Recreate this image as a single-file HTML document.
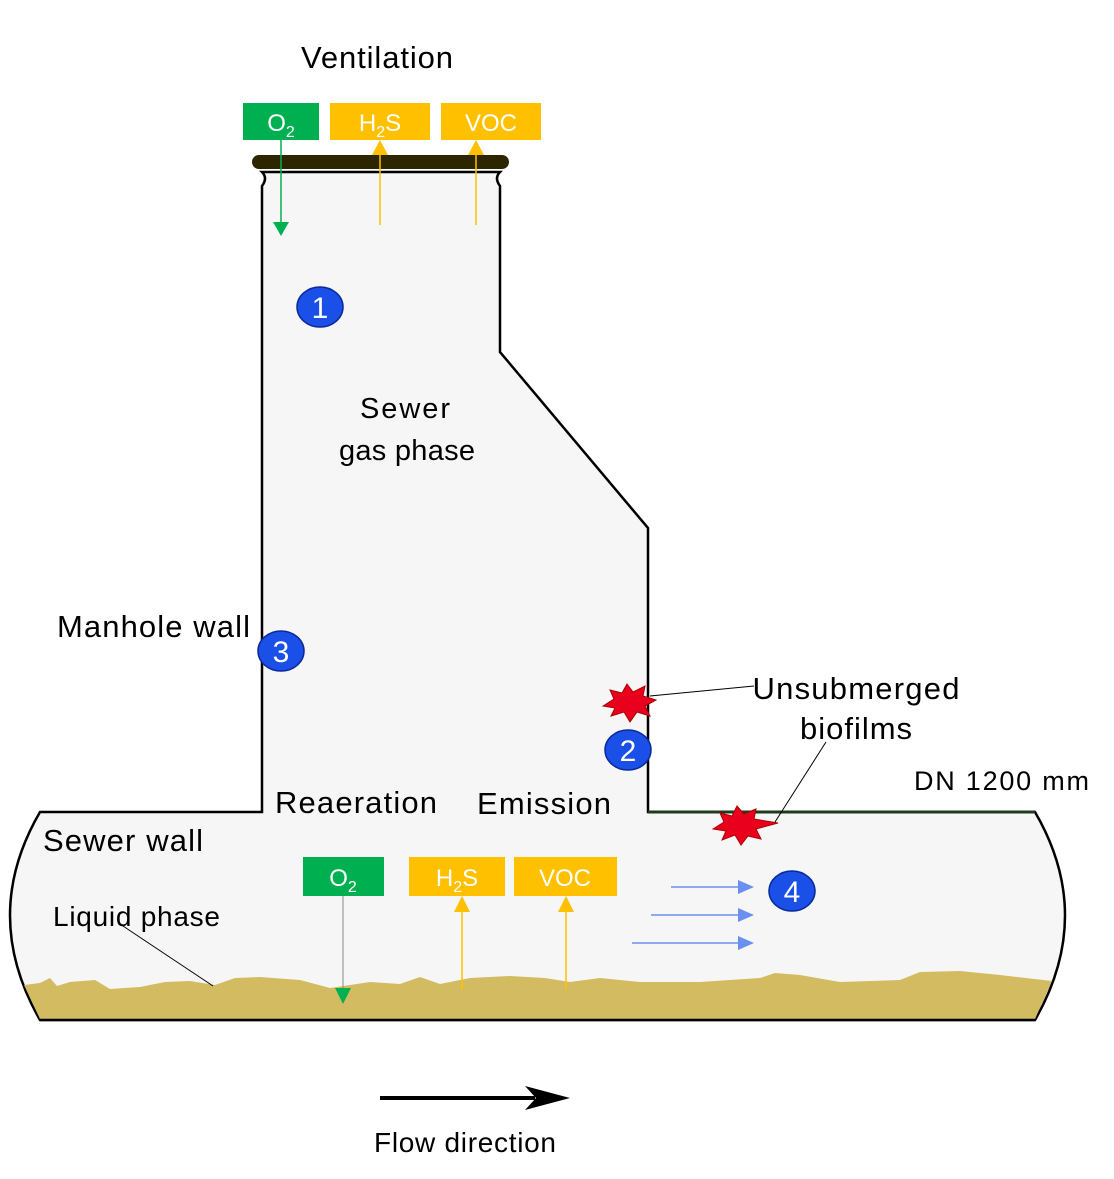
<!DOCTYPE html>
<html><head><meta charset="utf-8"><style>
html,body{margin:0;padding:0;background:#fff}
svg{display:block;font-family:"Liberation Sans",Arial,sans-serif}
</style></head><body>
<svg width="1114" height="1179" viewBox="0 0 1114 1179">
<path d="M262,172 Q268,178 262,186 L262,812 L40,812 Q-20,915 40,1020 L1035,1020 Q1095,915 1035,812 L648,812 L648,528 L500,352 L500,186 Q494,178 500,172 Z" fill="#f6f6f6" stroke="#000" stroke-width="2.5"/>
<line x1="648" y1="812" x2="1035" y2="812" stroke="#1f3a1f" stroke-width="3"/>
<path d="M24,985 L40,983 L50,978 L57,986 L70,982 L95,980 L110,989 L140,987 L165,982 L190,981 L215,985 L235,978 L260,977 L300,980 L330,988 L370,982 L400,984 L420,977 L440,984 L470,978 L510,976 L545,978 L570,982 L600,978 L640,982 L700,982 L760,978 L775,973 L800,975 L840,982 L900,980 L920,972 L960,971 L1000,975 L1052,981 L1035,1019 L40,1019 Z" fill="#d3bb62"/>
<path d="M40,1020 L1035,1020" stroke="#000" stroke-width="2.5"/>
<line x1="259" y1="162" x2="502" y2="162" stroke="#2d2500" stroke-width="14" stroke-linecap="round"/>
<rect x="243" y="103" width="76" height="37" fill="#00b050"/>
<text x="281" y="131" font-size="24" fill="#fff" text-anchor="middle">O<tspan font-size="16" dy="6">2</tspan></text>
<rect x="330" y="103" width="100" height="37" fill="#ffc000"/>
<text x="380" y="131" font-size="24" fill="#fff" text-anchor="middle">H<tspan font-size="16" dy="6">2</tspan><tspan dy="-6">S</tspan></text>
<rect x="441" y="103" width="100" height="37" fill="#ffc000"/>
<text x="491" y="131" font-size="24" fill="#fff" text-anchor="middle">VOC</text>
<line x1="281" y1="140" x2="281" y2="222" stroke="#00b050" stroke-width="1.5"/>
<path d="M273,222 L289,222 L281,236Z" fill="#00b050"/>
<line x1="380" y1="152" x2="380" y2="225" stroke="#ffc000" stroke-width="1.5"/>
<path d="M372,155 L388,155 L380,140Z" fill="#ffc000"/>
<line x1="476" y1="152" x2="476" y2="225" stroke="#ffc000" stroke-width="1.5"/>
<path d="M468,155 L484,155 L476,140Z" fill="#ffc000"/>
<rect x="303" y="857" width="81" height="39" fill="#00b050"/>
<text x="343" y="886" font-size="24" fill="#fff" text-anchor="middle">O<tspan font-size="16" dy="6">2</tspan></text>
<rect x="409" y="857" width="96" height="39" fill="#ffc000"/>
<text x="457" y="886" font-size="24" fill="#fff" text-anchor="middle">H<tspan font-size="16" dy="6">2</tspan><tspan dy="-6">S</tspan></text>
<rect x="514" y="857" width="103" height="39" fill="#ffc000"/>
<text x="565" y="886" font-size="24" fill="#fff" text-anchor="middle">VOC</text>
<line x1="343" y1="896" x2="343" y2="988" stroke="#888" stroke-width="1"/>
<path d="M335,988 L351,988 L343,1004Z" fill="#00b050"/>
<line x1="462" y1="910" x2="462" y2="990" stroke="#ffc000" stroke-width="1.5"/>
<path d="M454,912 L470,912 L462,896Z" fill="#ffc000"/>
<line x1="566" y1="910" x2="566" y2="990" stroke="#ffc000" stroke-width="1.5"/>
<path d="M558,912 L574,912 L566,896Z" fill="#ffc000"/>
<g stroke="#6a8ff0" stroke-width="1.5" fill="#6a8ff0">
<line x1="671" y1="887" x2="740" y2="887"/><path d="M738,880 L754,887 L738,894Z" stroke="none"/>
<line x1="651" y1="915" x2="740" y2="915"/><path d="M738,908 L754,915 L738,922Z" stroke="none"/>
<line x1="632" y1="943" x2="740" y2="943"/><path d="M738,936 L754,943 L738,950Z" stroke="none"/>
</g>
<g font-size="30" fill="#fff" text-anchor="middle">
<ellipse cx="320" cy="307" rx="23" ry="20" fill="#1a4fe8" stroke="#0a2a9a" stroke-width="1.5"/><text x="320" y="318">1</text>
<ellipse cx="628" cy="750" rx="23" ry="20" fill="#1a4fe8" stroke="#0a2a9a" stroke-width="1.5"/><text x="628" y="761">2</text>
<ellipse cx="281" cy="651" rx="23" ry="20" fill="#1a4fe8" stroke="#0a2a9a" stroke-width="1.5"/><text x="281" y="662">3</text>
<ellipse cx="792" cy="891" rx="23" ry="20" fill="#1a4fe8" stroke="#0a2a9a" stroke-width="1.5"/><text x="792" y="902">4</text>
</g>
<path d="M603,706 L614,699 L610,690 L622,693 L627,684 L633,692 L645,686 L643,696 L656,700 L645,706 L650,716 L637,712 L630,722 L624,712 L611,716 L615,708Z" fill="#e8001c" stroke="#a00" stroke-width="1"/>
<path d="M713,829 L724,822 L720,813 L732,816 L737,806 L744,814 L756,809 L754,819 L778,823 L756,829 L761,839 L748,836 L741,845 L735,835 L722,840 L726,831Z" fill="#e8001c" stroke="#a00" stroke-width="1"/>
<line x1="650" y1="696" x2="754" y2="686" stroke="#000" stroke-width="1"/>
<line x1="775" y1="822" x2="826" y2="742" stroke="#000" stroke-width="1"/>
<line x1="120" y1="924" x2="213" y2="986" stroke="#000" stroke-width="1"/>
<line x1="380" y1="1098" x2="535" y2="1098" stroke="#000" stroke-width="4"/>
<path d="M525,1086 L570,1098 L525,1110 L536,1098Z" fill="#000"/>
<g fill="#000">
<text x="377" y="68" text-anchor="middle" font-size="31" textLength="152">Ventilation</text>
<text x="405" y="418" text-anchor="middle" font-size="29" textLength="90">Sewer</text>
<text x="407" y="460" text-anchor="middle" font-size="29" textLength="136">gas phase</text>
<text x="57" y="637" font-size="31" textLength="193">Manhole wall</text>
<text x="856" y="699" text-anchor="middle" font-size="31" textLength="207">Unsubmerged</text>
<text x="856" y="739" text-anchor="middle" font-size="31" textLength="112">biofilms</text>
<text x="914" y="790" font-size="27" textLength="175">DN 1200 mm</text>
<text x="356" y="813" text-anchor="middle" font-size="31" textLength="162">Reaeration</text>
<text x="544" y="814" text-anchor="middle" font-size="31" textLength="134">Emission</text>
<text x="43" y="851" font-size="31" textLength="160">Sewer wall</text>
<text x="53" y="926" font-size="28" textLength="167">Liquid phase</text>
<text x="465" y="1152" text-anchor="middle" font-size="28" textLength="182">Flow direction</text>
</g>
</svg>
</body></html>
